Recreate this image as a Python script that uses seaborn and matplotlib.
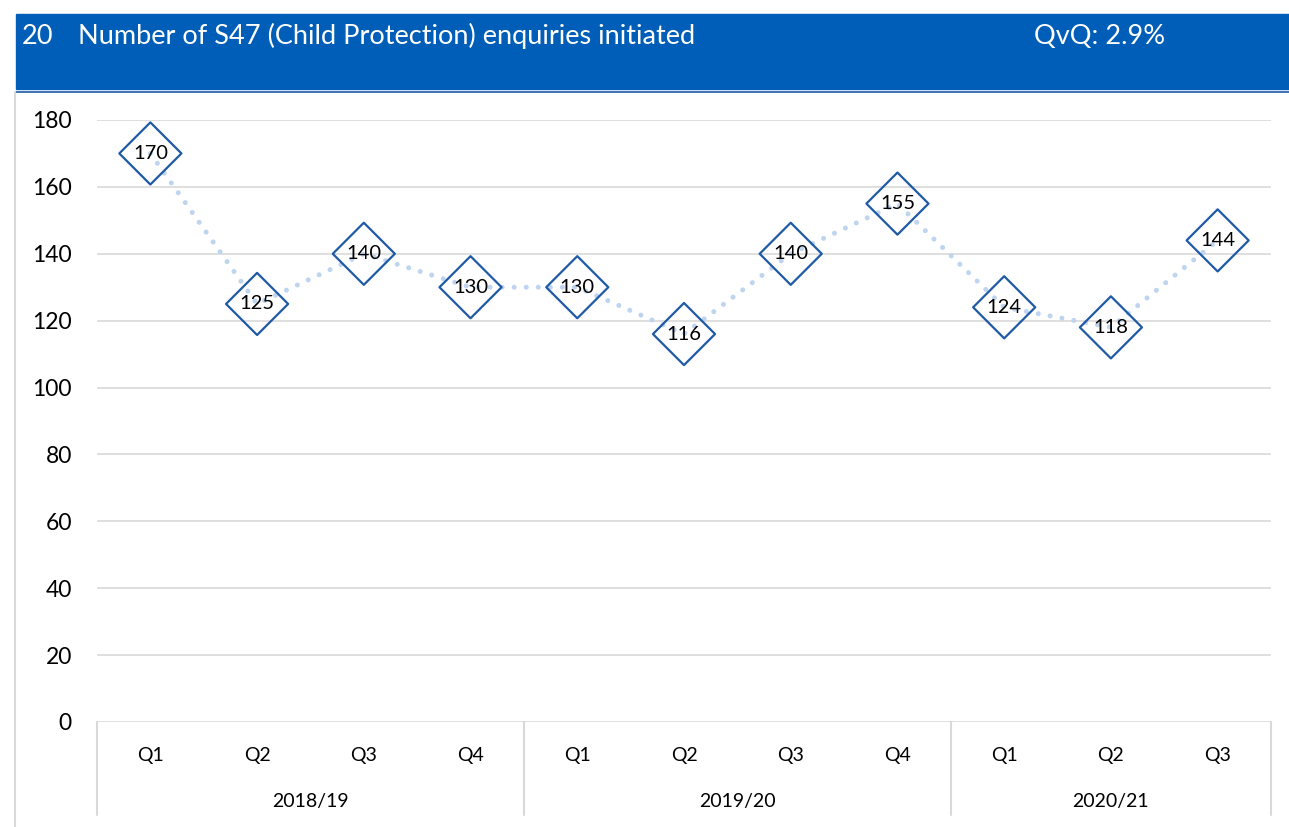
import matplotlib
matplotlib.use("Agg")
import matplotlib.pyplot as plt
from matplotlib.patches import Rectangle
from matplotlib.lines import Line2D
import seaborn as sns
import pandas as pd

# Quarterly S47 enquiry counts
years = ["2018/19", "2019/20", "2020/21"]
quarters = ["Q1", "Q2", "Q3", "Q4", "Q1", "Q2", "Q3", "Q4", "Q1", "Q2", "Q3"]
year_of_point = ["2018/19"] * 4 + ["2019/20"] * 4 + ["2020/21"] * 3
values = [170, 125, 140, 130, 130, 116, 140, 155, 124, 118, 144]

title_num = "20"
title_text = "Number of S47 (Child Protection) enquiries initiated"
qvq_text = "QvQ: 2.9%"

yticks = [0, 20, 40, 60, 80, 100, 120, 140, 160, 180]

df = pd.DataFrame({"pos": range(len(values)), "quarter": quarters,
                   "year": year_of_point, "value": values})

sns.set_theme(style="white")
plt.rcParams["font.family"] = ["Lato", "DejaVu Sans"]

W, H = 1289, 827
fig = plt.figure(figsize=(W / 100, H / 100), dpi=100)

def fx(px):
    return px / W

def fy(py):
    return 1 - py / H

# Header band
fig.patches.append(Rectangle((fx(16), fy(89)), fx(W) - fx(16), fy(14) - fy(89),
                             transform=fig.transFigure, color="#005EB8", zorder=0))
fig.lines.append(Line2D([fx(16), 1], [fy(91.5), fy(91.5)], transform=fig.transFigure,
                        color="#1F5AA6", lw=1.2))
fig.lines.append(Line2D([fx(15), fx(15)], [fy(92), 0], transform=fig.transFigure,
                        color="#D9D9D9", lw=1.5))
fig.text(fx(22), fy(36), title_num, color="white", fontsize=19.5, va="center", ha="left")
fig.text(fx(78), fy(36), title_text, color="white", fontsize=19.5, va="center", ha="left")
fig.text(fx(1034), fy(36), qvq_text, color="white", fontsize=19.5, va="center", ha="left")

ax = fig.add_axes([fx(97), fy(722), fx(1271) - fx(97), fy(120) - fy(722)])

sns.lineplot(data=df, x="pos", y="value", ax=ax, color="#BED4EF", lw=3.6,
             linestyle=(0, (0.01, 2.4)), dash_capstyle="round", zorder=2)
sns.scatterplot(data=df, x="pos", y="value", ax=ax, marker="D", s=1000,
                facecolor="none", edgecolor="#1F5AA6", linewidth=1.6, zorder=3)

for p, v in zip(df["pos"], df["value"]):
    ax.text(p, v, str(v), ha="center", va="center", fontsize=14.5, color="black", zorder=4)

n = len(values)
ax.set_xlim(-0.5, n - 0.5)
ax.set_ylim(0, 180)
ax.set_yticks(yticks)
ax.set_yticklabels([str(t) for t in yticks], fontsize=16.5, color="black")
ax.tick_params(axis="y", length=0, pad=18)
ax.grid(axis="y", color="#D9D9D9", lw=1.2)
ax.set_axisbelow(True)
for s in ax.spines.values():
    s.set_visible(False)

ax.set_xticks(list(df["pos"]))
ax.set_xticklabels(quarters, fontsize=14, color="black")
ax.tick_params(axis="x", length=0, pad=18)
ax.set_xlabel("")
ax.set_ylabel("")

# Year group labels and separators below the category axis
xt = ax.get_xaxis_transform()
seps = [-0.5]
for yr in years:
    idx = df.index[df["year"] == yr]
    first, last = idx.min(), idx.max()
    ax.text((first + last) / 2, -79 / 602, yr, transform=xt, ha="center", va="center",
            fontsize=14, color="black")
    seps.append(last + 0.5)
for sx in seps:
    ax.plot([sx, sx], [0, -93 / 602], transform=xt, color="#D9D9D9", lw=1.5, clip_on=False)

fig.savefig("out.png", dpi=100)
